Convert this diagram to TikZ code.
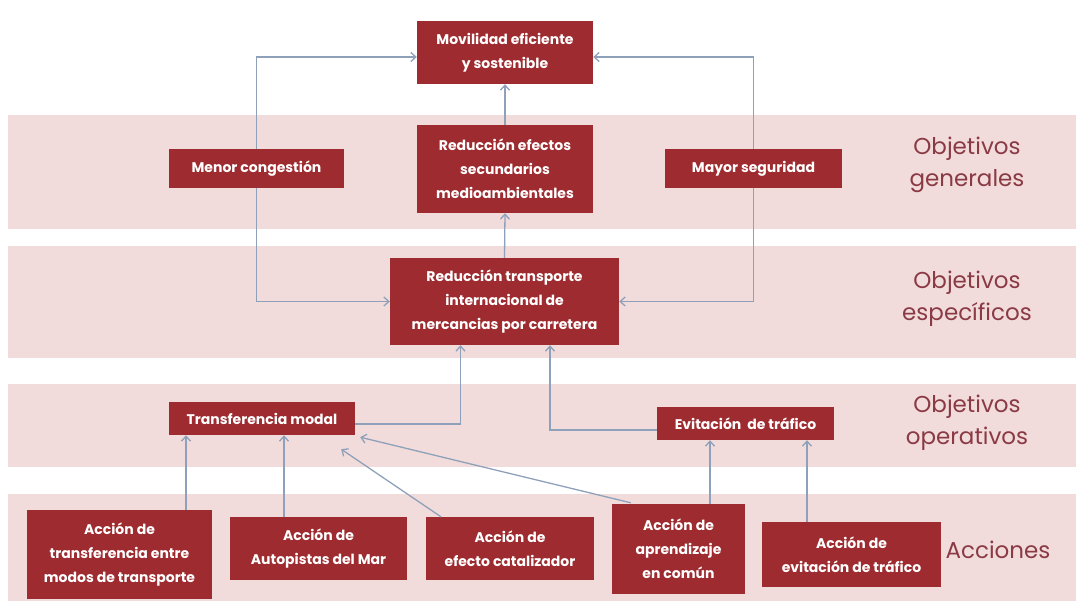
\documentclass[tikz,border=0pt]{standalone}
\usepackage{fontspec}
\setmainfont{Poppins}
\usepackage{tikz}
\usetikzlibrary{arrows.meta,calc,positioning}
\definecolor{boxred}{HTML}{9E2B2F}
\definecolor{bandpink}{HTML}{F2DCDB}
\definecolor{levelred}{HTML}{8A3A45}
\definecolor{linkgray}{HTML}{8FA1BA}

\begin{document}
\begin{tikzpicture}[
  x=1pt,y=-1pt,
  >={Straight Barb[length=5pt,width=9pt]},
  band/.style={fill=bandpink},
  goal/.style={fill=boxred,text=white,align=center,inner sep=2pt,
    font=\bfseries\fontsize{14}{24}\selectfont},
  level/.style={text=levelred,align=center,
    font=\fontsize{23}{32}\selectfont},
  link/.style={draw=linkgray,line width=1.3pt,->}
]
  \useasboundingbox (0,0) rectangle (1080,606);

  % Pink bands, one per level
  \fill[band] (8,115) rectangle (1076,229);
  \fill[band] (8,246) rectangle (1076,358);
  \fill[band] (8,384) rectangle (1076,467);
  \fill[band] (8,494) rectangle (1076,601);

  % Level names
  \node[level] (lgen) at (967,165) {Objetivos\\generales};
  \node[level] (lesp) at (967,299) {Objetivos\\específicos};
  \node[level] (lope) at (967,423) {Objetivos\\operativos};
  \node[level] (lacc) at (998,550) {Acciones};

  % Top goal
  \node[goal,minimum width=176,minimum height=63] (mov) at (505,52.5)
    {Movilidad eficiente\\y sostenible};

  % General objectives
  \node[goal,minimum width=175,minimum height=39] (menor) at (256.5,168.5)
    {Menor congestión};
  \node[goal,minimum width=176,minimum height=88] (efectos) at (505,169)
    {Reducción efectos\\secundarios\\medioambientales};
  \node[goal,minimum width=177,minimum height=39] (mayor) at (753.5,168.5)
    {Mayor seguridad};

  % Specific objective
  \node[goal,minimum width=229,minimum height=87] (reduc) at (504.5,301.5)
    {Reducción transporte\\internacional de\\mercancias por carretera};

  % Operative objectives
  \node[goal,minimum width=186,minimum height=33] (trans) at (262,418.5)
    {Transferencia modal};
  \node[goal,minimum width=177,minimum height=33] (evit) at (745.5,423.5)
    {Evitación\ \ de tráfico};

  % Actions
  \node[goal,minimum width=185,minimum height=89] (a1) at (119.5,554.5)
    {Acción de\\transferencia entre\\modos de transporte};
  \node[goal,minimum width=177,minimum height=63] (a2) at (318.5,548.5)
    {Acción de\\Autopistas del Mar};
  \node[goal,minimum width=168,minimum height=63] (a3) at (510,548.5)
    {Acción de\\efecto catalizador};
  \node[goal,minimum width=133,minimum height=90] (a4) at (678.5,549)
    {Acción de\\aprendizaje\\en común};
  \node[goal,minimum width=179,minimum height=65] (a5) at (851.5,554.5)
    {Acción de\\evitación de tráfico};

  % Links to the top goal
  \draw[link] (menor.north) |- ($(mov.west)+(0,4.5)$);
  \draw[link] (mayor.north) |- ($(mov.east)+(0,4.5)$);
  \draw[link] (menor.south) |- (reduc.west);
  \draw[link] (mayor.south) |- (reduc.east);
  \draw[link] (efectos.north) -- (mov.south);
  \draw[link] (reduc.north) -- (efectos.south);

  % Operative objectives up to the specific one
  \draw[link] ($(trans.east)+(0,5.5)$) -| ($(reduc.south)+(-44,0)$);
  \draw[link] ($(evit.west)+(0,6.5)$) -| ($(reduc.south)+(45.5,0)$);

  % Actions up to the operative objectives
  \coordinate (catEnd) at ($(trans.south east)+(-14,14)$);
  \coordinate (aprEnd) at ($(trans.south east)+(5,2)$);
  \draw[link] ($(a1.north)+(66.5,0)$) -- ($(trans.south)+(-76,0)$);
  \draw[link] ($(a2.north)+(-34.5,0)$) -- ($(trans.south)+(22,0)$);
  \draw[link] ($(a3.north)+(-69,0)$) -- (catEnd);
  \draw[link] ($(a4.north west)+(19,-1)$) -- (aprEnd);
  \draw[link] ($(a4.north)+(31.5,0)$) -- ($(evit.south)+(-35.5,0)$);
  \draw[link] ($(a5.north)+(-44.5,0)$) -- ($(evit.south)+(61.5,0)$);
\end{tikzpicture}
\end{document}
